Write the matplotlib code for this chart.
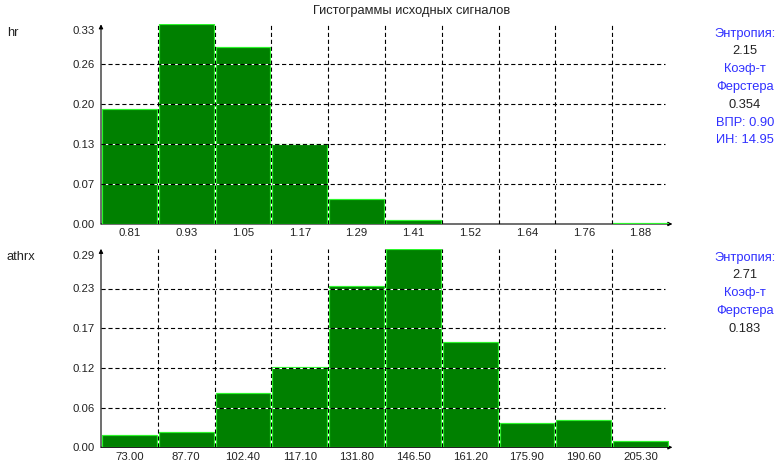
import numpy as np
import matplotlib
matplotlib.use("Agg")
import matplotlib.pyplot as plt
from matplotlib.transforms import ScaledTranslation

plt.rcParams['font.family'] = ['Liberation Sans', 'DejaVu Sans']
plt.rcParams['lines.scale_dashes'] = False

# Histogram data
hr_bins = ["0.81", "0.93", "1.05", "1.17", "1.29", "1.41", "1.52", "1.64", "1.76", "1.88"]
hr_freq = [0.190, 0.330, 0.293, 0.133, 0.042, 0.0066, 0.0, 0.0, 0.0, 0.0015]

athrx_bins = ["73.00", "87.70", "102.40", "117.10", "131.80", "146.50",
              "161.20", "175.90", "190.60", "205.30"]
athrx_freq = [0.0184, 0.022, 0.080, 0.117, 0.236, 0.290, 0.154, 0.035, 0.040, 0.0088]

# Side statistics (text, is_value)
hr_stats = [("Энтропия:", False), ("2.15", True), ("Коэф-т", False), ("Ферстера", False),
            ("0.354", True), ("ВПР: 0.90", False), ("ИН: 14.95", False)]
athrx_stats = [("Энтропия:", False), ("2.71", True), ("Коэф-т", False), ("Ферстера", False),
               ("0.183", True)]

title = "Гистограммы исходных сигналов"

W, H = 780, 468
fig = plt.figure(figsize=(W / 100, H / 100), dpi=100)
fig.patch.set_facecolor("white")

BAR_FACE = "#008000"
BAR_EDGE = "#2cf52c"
LABEL_BLUE = "#3030ff"
VALUE_DARK = "#222222"
DASH = (0, (3.0, 2.0))


def panel(rect, name, bins, freq, stats, stats_y):
    ax = fig.add_axes(rect)
    n = len(freq)
    ymax = max(freq)
    ax.set_xlim(0, n)
    ax.set_ylim(0, ymax)
    for s in ax.spines.values():
        s.set_visible(False)
    ax.set_facecolor("none")

    idx = np.arange(n)
    edges = [BAR_EDGE if v > 0 else "none" for v in freq]
    ax.bar(idx + 0.5, freq, width=0.968, color=BAR_FACE, edgecolor=edges,
           linewidth=0.85, zorder=2)

    # grid: dashed with opaque white gaps, drawn over the bars
    levels = np.linspace(0, ymax, 6)
    ax.hlines(levels[1:-1], 0, n - 0.07, colors="black", linewidth=0.8,
              linestyles=DASH, gapcolor="white", zorder=3)
    ax.vlines(np.arange(1, n), 0, ymax, colors="black", linewidth=0.8,
              linestyles=DASH, gapcolor="white", zorder=3)

    # axes with arrow heads
    ax.annotate("", xy=(1.006, 0), xytext=(0, 0), xycoords="axes fraction",
                arrowprops=dict(arrowstyle="-|>", color="black", lw=0.8,
                                mutation_scale=6, shrinkA=0, shrinkB=0),
                zorder=1, annotation_clip=False)
    ax.annotate("", xy=(0, 1.0), xytext=(0, 0), xycoords="axes fraction",
                arrowprops=dict(arrowstyle="-|>", color="black", lw=0.8,
                                mutation_scale=6, shrinkA=0, shrinkB=0),
                zorder=4, annotation_clip=False)

    ax.set_xticks(idx + 0.5, bins)
    ax.set_yticks(levels, [f"{v:.2f}" for v in levels])
    ax.tick_params(axis="x", length=0, pad=3.2, labelsize=8.2, labelcolor=VALUE_DARK)
    ax.tick_params(axis="y", length=0, pad=4.6, labelsize=8.2, labelcolor=VALUE_DARK)
    top_lbl = ax.get_yticklabels()[-1]
    top_lbl.set_transform(top_lbl.get_transform() +
                          ScaledTranslation(0, -6 / 100, fig.dpi_scale_trans))

    # series name
    fig.text(7 / W, 1 - stats_y[0] / H, name, fontsize=9.3, color=VALUE_DARK,
             ha="left", va="center")

    # statistics column
    for (txt, is_val), y in zip(stats, stats_y):
        fig.text(745 / W, 1 - y / H, txt, fontsize=9.3,
                 color=VALUE_DARK if is_val else LABEL_BLUE,
                 ha="center", va="center")
    return ax


x0 = 101 / W
wd = 568 / W
panel([x0, (H - 224) / H, wd, 199.7 / H], "hr", hr_bins, hr_freq, hr_stats,
      [33.5, 51.3, 69.1, 86.9, 104.7, 122.5, 140.3])
panel([x0, (H - 447.3) / H, wd, 198.5 / H], "athrx", athrx_bins, athrx_freq,
      athrx_stats, [257.5, 275.3, 293.1, 310.9, 328.7])

fig.text(412 / W, 1 - 11 / H, title, fontsize=9.3, color=VALUE_DARK,
         ha="center", va="center")

fig.savefig("out.png", dpi=100, facecolor="white")
